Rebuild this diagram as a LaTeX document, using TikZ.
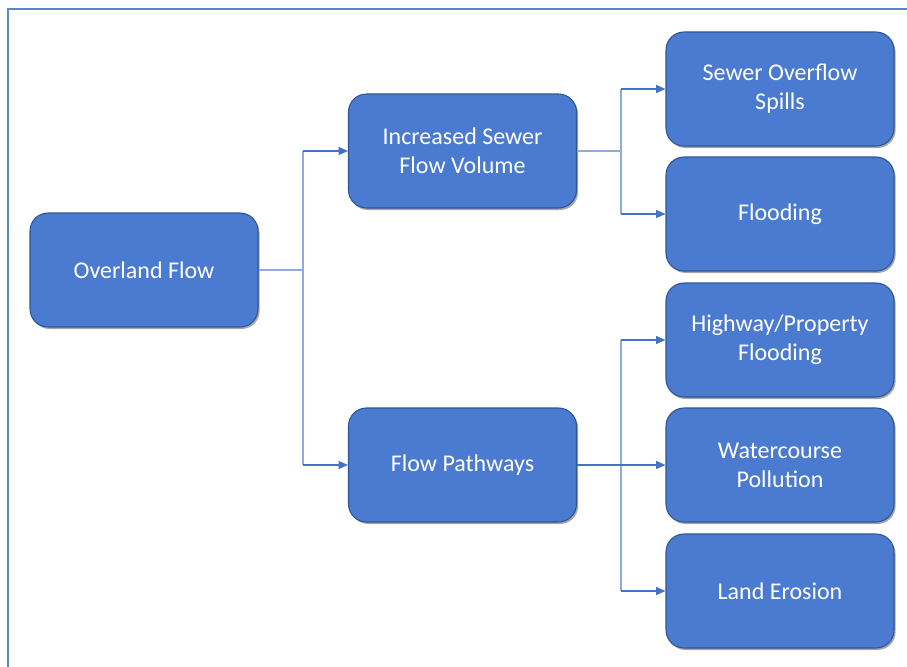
\documentclass[tikz,border=0pt]{standalone}
\usepackage{fontspec}
\setmainfont{Carlito}
\usetikzlibrary{arrows.meta,shadows}
\definecolor{boxfill}{HTML}{4A7BD0}
\definecolor{boxedge}{HTML}{2F5597}
\definecolor{linelight}{HTML}{8FAADC}
\definecolor{linedark}{HTML}{4472C4}
\definecolor{framec}{HTML}{5B87CC}
\begin{document}
\begin{tikzpicture}[x=0.75pt,y=-0.75pt,
  box/.style={draw=boxedge,line width=0.8pt,fill=boxfill,rounded corners=13.5pt,
    minimum width=171pt,minimum height=85.5pt,text=white,align=center,
    font=\fontsize{18}{21.7}\selectfont,inner sep=0pt,
    drop shadow={shadow xshift=1.2pt,shadow yshift=-1.5pt,opacity=0.35,fill=black}},
  elbow/.style={draw=linelight,line width=0.8pt},
  arr/.style={draw=linedark,line width=0.8pt,-{Triangle[length=7pt,width=6pt]}}]
\useasboundingbox (0,0) rectangle (907,667);
\draw[framec,line width=0.9pt] (7,9) -- (907,9);
\draw[framec,line width=1.6pt] (8,9) -- (8,667);
\node[box] (of) at (144,270) {Overland Flow};
\node[box] (isf) at (462.5,151) {Increased Sewer\\Flow Volume};
\node[box] (fp) at (462.5,465) {Flow Pathways};
\node[box] (sos) at (780,89) {Sewer Overflow\\Spills};
\node[box] (fl) at (780,214) {Flooding};
\node[box] (hpf) at (780,340) {Highway/Property\\Flooding};
\node[box] (wp) at (780,465) {Watercourse\\Pollution};
\node[box] (le) at (780,591) {Land Erosion};
\coordinate (j1) at (303,270);
\coordinate (j1a) at (303,151);
\coordinate (j1b) at (303,465);
\coordinate (j2) at (621,151);
\coordinate (j2a) at (621,89);
\coordinate (j2b) at (621,214);
\coordinate (j3) at (621,465);
\coordinate (j3a) at (621,340);
\coordinate (j3b) at (621,591);
\draw[elbow] (of.east) -- (j1);
\draw[elbow] (j1a) -- (j1b);
\draw[arr] (j1a) -- (isf.west);
\draw[arr] (j1b) -- (fp.west);
\draw[elbow] (isf.east) -- (j2);
\draw[elbow] (j2a) -- (j2b);
\draw[arr] (j2a) -- (sos.west);
\draw[arr] (j2b) -- (fl.west);
\draw[elbow] (j3a) -- (j3b);
\draw[arr] (fp.east) -- (wp.west);
\draw[arr] (j3a) -- (hpf.west);
\draw[arr] (j3b) -- (le.west);
\end{tikzpicture}
\end{document}
